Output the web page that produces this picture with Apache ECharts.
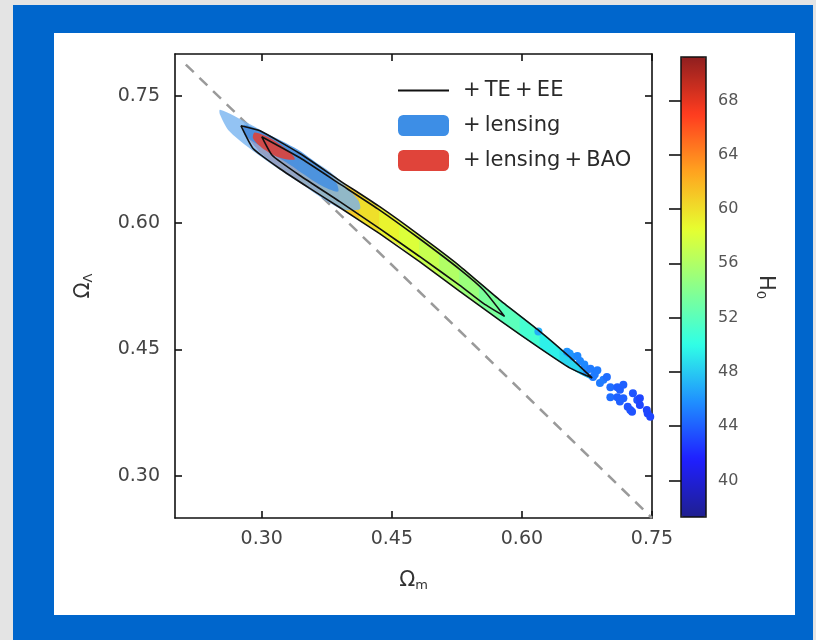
<!DOCTYPE html>
<html>
<head>
<meta charset="utf-8">
<script src="https://cdn.jsdelivr.net/npm/echarts@6.0.0/dist/echarts.min.js"></script>
<style>
  html, body { margin: 0; padding: 0; }
  body { width: 816px; height: 640px; background: #e4e4e4; position: relative; overflow: hidden; }
  #frame { position: absolute; left: 13px; top: 5px; width: 800px; height: 635px; background: #0066cc; }
  #panel { position: absolute; left: 54px; top: 33px; width: 741px; height: 582px; background: #ffffff; }
  #chart { position: absolute; left: 0; top: 0; width: 816px; height: 640px; }
</style>
</head>
<body>
<div id="frame"></div>
<div id="panel"></div>
<div id="chart"></div>
<script>
// ---------------- data ----------------
const xTicks = [0.30, 0.45, 0.60, 0.75];          // Omega_m tick labels
const yTicks = [0.30, 0.45, 0.60, 0.75];          // Omega_Lambda tick labels
const h0Ticks = [40, 44, 48, 52, 56, 60, 64, 68]; // colour-bar tick labels
const h0Range = [37.3, 71.2];

// legend / series names
const nameTEEE = '+\u2009TE\u2009+\u2009EE';
const nameLens = '+\u2009lensing';
const nameBAO = '+\u2009lensing\u2009+\u2009BAO';

// coloured sample band (+TE+EE posterior coloured by H0)
const bandOmegaM = [0.280,0.298,0.321,0.344,0.367,0.390,0.413,0.436,0.459,0.482,0.505,0.528,0.551,0.575,0.598,0.621,0.644,0.667,0.681];
const bandUpper  = [0.714,0.709,0.695,0.681,0.665,0.649,0.634,0.618,0.601,0.585,0.567,0.549,0.529,0.508,0.490,0.471,0.451,0.430,0.416];
const bandLower  = [0.706,0.684,0.665,0.648,0.633,0.619,0.603,0.588,0.573,0.555,0.537,0.519,0.502,0.484,0.467,0.451,0.435,0.421,0.414];
const bandH0     = [67,66,65,63.5,62,61,60,59,58,57,56,55,53.5,52,51,49.5,48.5,47.5,47];

// scattered samples in the high-Omega_m tail: [Omega_m, Omega_Lambda, H0]
const tailSamples = [
  [0.619,0.471,47],[0.652,0.447,46],[0.659,0.441,46],[0.655,0.445,46],[0.667,0.436,45.5],
  [0.675,0.425,45.5],[0.682,0.417,45],[0.687,0.425,45],[0.690,0.410,45],[0.694,0.414,45],
  [0.698,0.417,44.5],[0.702,0.405,44.5],[0.702,0.393,44.5],[0.710,0.405,44],[0.710,0.393,44],
  [0.713,0.402,44],[0.713,0.388,44],[0.717,0.408,44],[0.717,0.392,44],[0.722,0.382,43.5],
  [0.725,0.378,43.5],[0.727,0.376,43.5],[0.728,0.398,43.5],[0.733,0.390,43.5],[0.736,0.392,43],
  [0.736,0.384,43],[0.744,0.378,43],[0.745,0.374,43],[0.748,0.370,43],
  [0.664,0.442,45.5],[0.672,0.432,45.5],[0.679,0.427,45],[0.684,0.420,45]
];

// +TE+EE contours (outer 95%, inner 68%)
const teeeOuter = [[0.276,0.715],[0.298,0.709],[0.344,0.682],[0.390,0.650],[0.436,0.619],[0.482,0.585],[0.528,0.549],[0.575,0.508],[0.621,0.471],[0.655,0.441],[0.681,0.416],[0.655,0.428],[0.621,0.451],[0.575,0.484],[0.528,0.519],[0.482,0.554],[0.436,0.587],[0.390,0.618],[0.355,0.641],[0.321,0.664],[0.290,0.688],[0.276,0.715]];
const teeeInner = [[0.300,0.702],[0.344,0.677],[0.390,0.646],[0.436,0.615],[0.482,0.581],[0.528,0.545],[0.556,0.520],[0.580,0.489],[0.556,0.504],[0.528,0.526],[0.482,0.560],[0.436,0.593],[0.390,0.625],[0.344,0.656],[0.312,0.680],[0.300,0.702]];

// +lensing filled contours
const lensOuter = [[0.252,0.734],[0.286,0.717],[0.332,0.690],[0.379,0.660],[0.411,0.627],[0.413,0.616],[0.390,0.617],[0.344,0.647],[0.298,0.679],[0.263,0.708],[0.252,0.728]];
const lensInner = [[0.280,0.716],[0.315,0.701],[0.350,0.681],[0.384,0.651],[0.388,0.637],[0.367,0.645],[0.332,0.669],[0.295,0.693],[0.280,0.705]];

// +lensing+BAO filled contour
const baoContour = [[0.292,0.707],[0.312,0.699],[0.332,0.684],[0.338,0.675],[0.321,0.677],[0.300,0.689],[0.290,0.700]];

// flat universe line Omega_Lambda = 1 - Omega_m
const flatLine = [[0.2125,0.7875],[0.75,0.25]];

// ---------------- chart ----------------
const FONT = 'DejaVu Sans';
const jet = ['#1f1f8f','#1f1fff','#1f8fff','#30ffe6','#8bff8b','#e6ff30','#ffa41f','#ff3c1f','#8f1f1f'];

function polygonSeries(name, pts, color, z) {
  return {
    type: 'custom', name: name, z: z, silent: true, clip: true,
    data: pts,
    renderItem: function (params, api) {
      if (params.dataIndex !== 0) return null;
      return {
        type: 'polygon',
        shape: { points: pts.map(function (p) { return api.coord(p); }), smooth: 0.3 },
        style: { fill: color }
      };
    }
  };
}
function contourLine(name, pts) {
  return {
    type: 'line', name: name, data: pts, z: 6, symbol: 'none', silent: true,
    smooth: 0.15,
    lineStyle: { color: '#111', width: 1.6 }, itemStyle: { color: '#111' }
  };
}

const bandData = bandOmegaM.map(function (m, i) { return [m, bandUpper[i], bandH0[i], bandLower[i]]; });

const series = [
  { // 0 flat line
    type: 'line', data: flatLine, symbol: 'none', silent: true, z: 1,
    lineStyle: { color: '#9a9a9a', width: 2.5, type: [11, 8] }
  },
  { // 1 coloured band
    type: 'custom', z: 2, silent: true, clip: true,
    data: bandData,
    encode: { x: 0, y: 1 },
    renderItem: function (params, api) {
      const i = params.dataIndex;
      if (i >= bandOmegaM.length - 1) return null;
      const c = api.visual('color');
      const p1 = api.coord([bandOmegaM[i], bandUpper[i]]);
      const p2 = api.coord([bandOmegaM[i + 1], bandUpper[i + 1]]);
      const p3 = api.coord([bandOmegaM[i + 1], bandLower[i + 1]]);
      const p4 = api.coord([bandOmegaM[i], bandLower[i]]);
      return { type: 'polygon', shape: { points: [p1, p2, p3, p4] }, style: { fill: c, stroke: c, lineWidth: 1 } };
    }
  },
  { // 2 tail samples
    type: 'scatter', data: tailSamples, symbolSize: 8, z: 2, silent: true,
    itemStyle: { opacity: 1 }
  },
  polygonSeries(nameLens, lensOuter, 'rgba(120,180,240,0.80)', 3),
  polygonSeries(nameLens, lensInner, 'rgba(60,140,228,0.80)', 4),
  polygonSeries(nameBAO, baoContour, 'rgba(222,66,58,0.90)', 5),
  contourLine(nameTEEE, teeeOuter),
  contourLine(nameTEEE, teeeInner)
];

const axisLineStyle = { color: '#111', width: 1.6 };
const tickFmt = function (v) { return Number(v).toFixed(2); };
const subRich = {
  a: { fontFamily: FONT, fontSize: 21, color: '#333' },
  s: { fontFamily: FONT, fontSize: 13, color: '#333', padding: [9, 0, 0, 0] }
};

const option = {
  animation: false,
  grid: [
    { left: 175, top: 54, width: 477, height: 464, show: false },
    { left: 681, top: 57, width: 25, height: 460, show: true, borderColor: '#111', borderWidth: 1.5, backgroundColor: 'transparent', z: 10 }
  ],
  xAxis: [
    {
      gridIndex: 0, type: 'value', min: 0.2, max: 0.75, position: 'bottom',
      name: '{a|Ω}{s|m}', nameLocation: 'middle', nameGap: 52,
      nameTextStyle: { rich: subRich },
      splitLine: { show: false },
      axisLine: { onZero: false, lineStyle: axisLineStyle },
      axisTick: { inside: true, length: 7, lineStyle: axisLineStyle, customValues: xTicks },
      axisLabel: { customValues: xTicks, formatter: tickFmt, fontFamily: FONT, fontSize: 19, color: '#444', margin: 12 }
    },
    {
      gridIndex: 0, type: 'value', min: 0.2, max: 0.75, position: 'top',
      splitLine: { show: false },
      axisLine: { onZero: false, lineStyle: axisLineStyle },
      axisTick: { inside: true, length: 7, lineStyle: axisLineStyle, customValues: xTicks },
      axisLabel: { show: false }
    },
    { gridIndex: 1, type: 'value', min: 0, max: 1, show: false }
  ],
  yAxis: [
    {
      gridIndex: 0, type: 'value', min: 0.25, max: 0.8, position: 'left',
      name: '{a|Ω}{s|Λ}', nameLocation: 'middle', nameGap: 80, nameRotate: 90,
      nameTextStyle: { rich: subRich },
      splitLine: { show: false },
      axisLine: { onZero: false, lineStyle: axisLineStyle },
      axisTick: { inside: true, length: 7, lineStyle: axisLineStyle, customValues: yTicks },
      axisLabel: { customValues: yTicks, formatter: tickFmt, fontFamily: FONT, fontSize: 19, color: '#444', margin: 15 }
    },
    {
      gridIndex: 0, type: 'value', min: 0.25, max: 0.8, position: 'right',
      splitLine: { show: false },
      axisLine: { onZero: false, lineStyle: axisLineStyle },
      axisTick: { inside: true, length: 7, lineStyle: axisLineStyle, customValues: yTicks },
      axisLabel: { show: false }
    },
    {
      gridIndex: 1, type: 'value', min: h0Range[0], max: h0Range[1], position: 'right', z: 10,
      name: '{a|H}{s|0}', nameLocation: 'middle', nameGap: 48, nameRotate: -90,
      nameTextStyle: { rich: subRich },
      splitLine: { show: false },
      axisLine: { show: false },
      axisTick: { inside: true, length: 12, lineStyle: { color: '#111', width: 1.6 }, customValues: h0Ticks },
      axisLabel: { customValues: h0Ticks, fontFamily: FONT, fontSize: 16, color: '#555', margin: 12 }
    }
  ],
  visualMap: {
    type: 'continuous', min: h0Range[0], max: h0Range[1], dimension: 2,
    seriesIndex: [1, 2], calculable: false, realtime: false,
    left: 681, top: 57, itemWidth: 25, itemHeight: 460, padding: 0,
    text: null, showLabel: false, hoverLink: false,
    inRange: { color: jet }
  },
  legend: {
    orient: 'vertical', left: 392, top: 75, itemWidth: 51, itemHeight: 21, itemGap: 14,
    selectedMode: false,
    textStyle: { fontFamily: FONT, fontSize: 21, color: '#2a2a2a', lineHeight: 21, padding: [0, 0, 0, 9] },
    data: [
      { name: nameTEEE, itemStyle: { opacity: 0 }, lineStyle: { color: '#111', width: 2 } },
      { name: nameLens, icon: 'roundRect', itemStyle: { color: '#3d8ee6' } },
      { name: nameBAO, icon: 'roundRect', itemStyle: { color: '#e0443a' } }
    ]
  },
  series: series
};

const chart = echarts.init(document.getElementById('chart'), null, { renderer: 'canvas' });
chart.setOption(option);
</script>
</body>
</html>
